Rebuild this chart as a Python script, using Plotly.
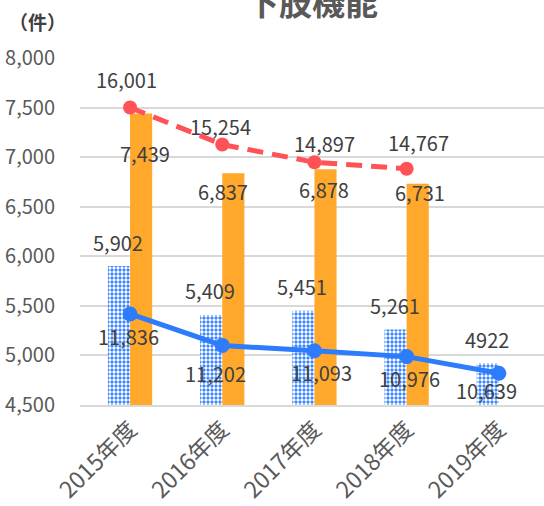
import plotly.graph_objects as go

categories = ["2015年度", "2016年度", "2017年度", "2018年度", "2019年度"]
blue_bars = [5902, 5409, 5451, 5261, 4922]
blue_bar_labels = ["5,902", "5,409", "5,451", "5,261", "4922"]
orange_bars = [7439, 6837, 6878, 6731, None]
red_line = [16001, 15254, 14897, 14767, None]
blue_line = [11836, 11202, 11093, 10976, 10639]

BLUE = "#2C7CFB"
ORANGE = "#FFA82B"
RED = "#FF5257"
TXT = "#404040"
AX = "#595959"
FONT = "Noto Sans CJK JP"
LFS = 20

fig = go.Figure()
fig.add_bar(x=categories, y=blue_bars, name="blue",
            marker=dict(color=BLUE, line=dict(width=0),
                        pattern=dict(shape=".", fgcolor="white", bgcolor=BLUE,
                                     size=4, solidity=0.55, fillmode="replace")))
fig.add_bar(x=categories, y=orange_bars, name="orange",
            marker=dict(color=ORANGE, line=dict(width=0)))
fig.add_scatter(x=categories, y=red_line, yaxis="y2", mode="lines+markers",
                line=dict(color=RED, width=5, dash="16px,9px"),
                marker=dict(color=RED, size=14), connectgaps=False)
fig.add_scatter(x=categories, y=blue_line, yaxis="y2", mode="lines+markers",
                line=dict(color=BLUE, width=5),
                marker=dict(color=BLUE, size=15))

ann = []
def lab(x, y, text, yref, dx, dy):
    ann.append(dict(x=x, y=y, xref="x", yref=yref, text=text, showarrow=False,
                    xshift=dx, yshift=dy, font=dict(size=LFS, color=TXT, family=FONT)))

bdx = [-12, -12, -12, -12, -12]
for i, c in enumerate(categories):
    lab(c, blue_bars[i], blue_bar_labels[i], "y", bdx[i], 24)
odx = [15, 1, 10, 13]
ody = [-40, -18, -20, -9]
for i in range(4):
    lab(categories[i], orange_bars[i], f"{orange_bars[i]:,}", "y", odx[i], ody[i])
rdx = [-4, -2, 10, 12]
rdy = [28, 18, 19, 26]
for i in range(4):
    lab(categories[i], red_line[i], f"{red_line[i]:,}", "y2", rdx[i], rdy[i])
ldx = [-2, -7, 7, 3, -12]
ldy = [-23, -28, -22, -22, -17]
for i in range(5):
    lab(categories[i], blue_line[i], f"{blue_line[i]:,}", "y2", ldx[i], ldy[i])

L, R, T, B = 80, 0, 58, 101
W, H = 544, 506
pw, ph = W - L - R, H - T - B
def px(x): return (x - L) / pw
def py(y): return (H - y - B) / ph

ann.append(dict(x=px(312), y=py(1), xref="paper", yref="paper", text="<b>下肢機能</b>",
                xanchor="center", yanchor="middle",
                showarrow=False, font=dict(size=33, color=AX, family=FONT)))
ann.append(dict(x=px(37), y=py(22), xref="paper", yref="paper", text="<b>（件）</b>",
                xanchor="center", yanchor="middle",
                showarrow=False, font=dict(size=19, color=TXT, family=FONT)))

fig.update_layout(
    width=W, height=H,
    margin=dict(l=L, r=R, t=T, b=B, autoexpand=False),
    paper_bgcolor="white", plot_bgcolor="white",
    barmode="group", bargap=0.52, bargroupgap=0,
    showlegend=False,
    font=dict(family=FONT, color=AX),
    xaxis=dict(type="category", range=[-0.543, 4.49], tickangle=-45,
               tickfont=dict(size=23, color=AX), showgrid=False,
               showline=True, linecolor="#D9D9D9", linewidth=1.5, ticks=""),
    yaxis=dict(range=[4500, 8000], dtick=500, tickformat=",d",
               tickfont=dict(size=20, color=AX), gridcolor="#D9D9D9",
               gridwidth=1.5, zeroline=False, ticklabelstandoff=24),
    yaxis2=dict(range=[10000, 17000], overlaying="y", side="right",
                visible=False, showgrid=False),
    annotations=ann,
)

fig.write_html("out.html", config={"displayModeBar": False},
               post_script="document.body.style.margin='0';")
